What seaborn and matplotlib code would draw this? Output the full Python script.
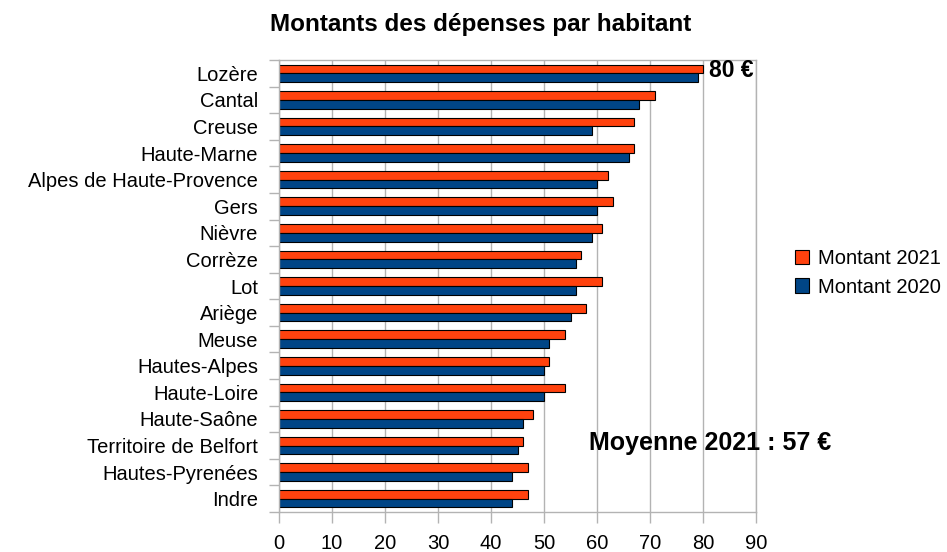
import matplotlib
matplotlib.use("Agg")
import matplotlib.pyplot as plt
import seaborn as sns
import pandas as pd
import numpy as np
from matplotlib.patches import Patch

departements = ["Lozère", "Cantal", "Creuse", "Haute-Marne", "Alpes de Haute-Provence",
                "Gers", "Nièvre", "Corrèze", "Lot", "Ariège", "Meuse", "Hautes-Alpes",
                "Haute-Loire", "Haute-Saône", "Territoire de Belfort", "Hautes-Pyrenées", "Indre"]
montant_2021 = [80, 71, 67, 67, 62, 63, 61, 57, 61, 58, 54, 51, 54, 48, 46, 47, 47]
montant_2020 = [79, 68, 59, 66, 60, 60, 59, 56, 56, 55, 51, 50, 50, 46, 45, 44, 44]
series = ["Montant 2021", "Montant 2020"]
x_ticks = [0, 10, 20, 30, 40, 50, 60, 70, 80, 90]

df = pd.DataFrame({
    "Département": departements * 2,
    "Montant": montant_2021 + montant_2020,
    "Série": [series[0]] * len(departements) + [series[1]] * len(departements),
})

sns.set_theme(style="white")
plt.rcParams['font.family'] = ['Liberation Sans', 'DejaVu Sans']
plt.rcParams['text.color'] = 'black'
plt.rcParams['xtick.labelcolor'] = 'black'
plt.rcParams['ytick.labelcolor'] = 'black'

colors = {"Montant 2021": "#FF420E", "Montant 2020": "#004586"}

fig = plt.figure(figsize=(9.47, 5.52), dpi=100)
ax = fig.add_axes([279/947, 1 - 512/552, (756-279)/947, (512-60)/552])

sns.barplot(data=df, y="Département", x="Montant", hue="Série", order=departements,
            hue_order=series, palette=colors, orient="h", width=0.66, gap=0,
            edgecolor="black", linewidth=0.8, saturation=1, ax=ax, legend=False)

ax.set_xlim(0, 90)
ax.set_ylim(len(departements) - 0.5, -0.5)
ax.set_xticks(x_ticks)
ax.set_xticklabels([str(t) for t in x_ticks], fontsize=14.5)
ax.set_yticks(range(len(departements)))
ax.set_yticklabels(departements, fontsize=14.5)
ax.set_yticks(np.arange(-0.5, len(departements), 1), minor=True)
ax.tick_params(axis="y", which="major", length=0, pad=15)
ax.tick_params(axis="y", which="minor", length=7, color="#b3b3b3", width=1, left=True)
ax.tick_params(axis="x", which="major", length=8, color="#b3b3b3", width=1, bottom=True, pad=8)
ax.set_xlabel("")
ax.set_ylabel("")
ax.grid(axis="x", color="#b3b3b3", linewidth=1)
ax.set_axisbelow(True)
for s in ax.spines.values():
    s.set_color("#b3b3b3")
    s.set_linewidth(1)

fig.text(481/947, 1 - 25/552, "Montants des dépenses par habitant", fontsize=17.5,
         fontweight="bold", ha="center", va="center")

ax.text(81.2, -0.12, "80 €", fontsize=16.5, fontweight="bold", va="center", ha="left",
        clip_on=False)
ax.text(58.4, 13.9, "Moyenne 2021 : 57 €", fontsize=18, fontweight="bold", va="center",
        ha="left", clip_on=False)

handles = [Patch(facecolor=colors[s], edgecolor="black", linewidth=0.8, label=s) for s in series]
fig.legend(handles=handles, loc="center left", bbox_to_anchor=(795/947, 1 - 273/552),
           frameon=False, fontsize=14.5, handlelength=0.7, handleheight=0.7,
           handletextpad=0.45, labelspacing=0.45, borderpad=0, borderaxespad=0)

fig.savefig("out.png", dpi=100)
